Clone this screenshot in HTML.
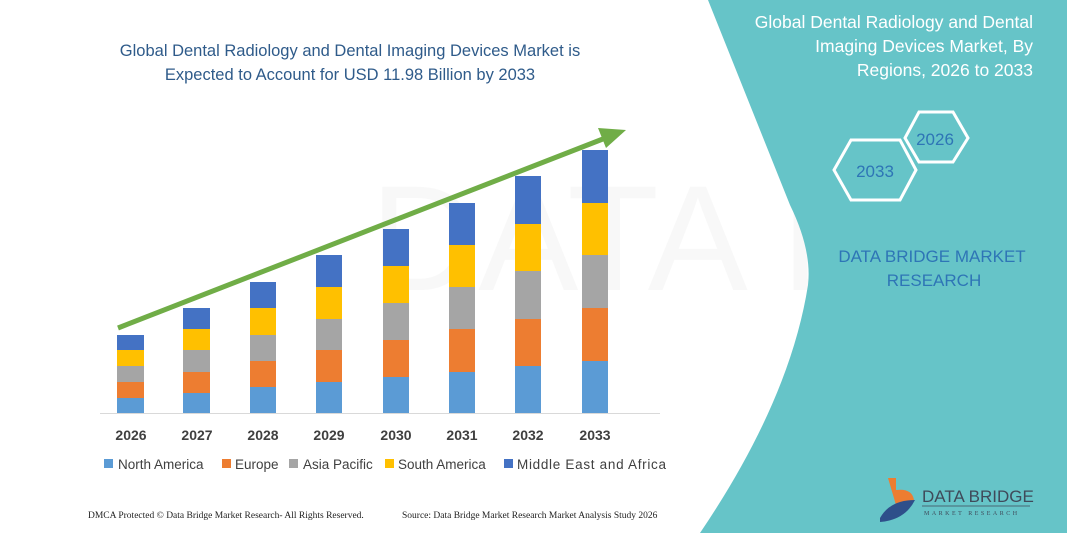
<!DOCTYPE html>
<html><head><meta charset="utf-8"><style>
body{margin:0;width:1067px;height:533px;overflow:hidden;background:#fff;font-family:"Liberation Sans",sans-serif;}
</style></head><body>
<svg width="1067" height="533" viewBox="0 0 1067 533" xmlns="http://www.w3.org/2000/svg">
<g opacity="0.035" font-family="Liberation Sans" font-size="150" fill="#555">
<text x="370" y="290">DATA BRIDGE</text>
</g>
<path d="M708,0 L1067,0 L1067,533 L700,533 Q790,400 808,285 Q812,250 790,205 Z" fill="#66c4c8"/>
<g font-family="Liberation Sans" fill="#2f5b8a" font-size="16.5" text-anchor="middle">
<text x="350" y="56">Global Dental Radiology and Dental Imaging Devices Market is</text>
<text x="350" y="80">Expected to Account for USD 11.98 Billion by 2033</text>
</g>
<line x1="100" y1="413.5" x2="660" y2="413.5" stroke="#d9d9d9" stroke-width="1"/>
<g id="bars">
<rect x="117" y="398" width="27" height="15" fill="#5b9bd5"/><rect x="117" y="382" width="27" height="16" fill="#ed7d31"/><rect x="117" y="366" width="27" height="16" fill="#a5a5a5"/><rect x="117" y="350" width="27" height="16" fill="#ffc000"/><rect x="117" y="335" width="27" height="15" fill="#4472c4"/>
<rect x="183" y="393" width="27" height="20" fill="#5b9bd5"/><rect x="183" y="372" width="27" height="21" fill="#ed7d31"/><rect x="183" y="350" width="27" height="22" fill="#a5a5a5"/><rect x="183" y="329" width="27" height="21" fill="#ffc000"/><rect x="183" y="308" width="27" height="21" fill="#4472c4"/>
<rect x="250" y="387" width="26" height="26" fill="#5b9bd5"/><rect x="250" y="361" width="26" height="26" fill="#ed7d31"/><rect x="250" y="335" width="26" height="26" fill="#a5a5a5"/><rect x="250" y="308" width="26" height="27" fill="#ffc000"/><rect x="250" y="282" width="26" height="26" fill="#4472c4"/>
<rect x="316" y="382" width="26" height="31" fill="#5b9bd5"/><rect x="316" y="350" width="26" height="32" fill="#ed7d31"/><rect x="316" y="319" width="26" height="31" fill="#a5a5a5"/><rect x="316" y="287" width="26" height="32" fill="#ffc000"/><rect x="316" y="255" width="26" height="32" fill="#4472c4"/>
<rect x="383" y="377" width="26" height="36" fill="#5b9bd5"/><rect x="383" y="340" width="26" height="37" fill="#ed7d31"/><rect x="383" y="303" width="26" height="37" fill="#a5a5a5"/><rect x="383" y="266" width="26" height="37" fill="#ffc000"/><rect x="383" y="229" width="26" height="37" fill="#4472c4"/>
<rect x="449" y="372" width="26" height="41" fill="#5b9bd5"/><rect x="449" y="329" width="26" height="43" fill="#ed7d31"/><rect x="449" y="287" width="26" height="42" fill="#a5a5a5"/><rect x="449" y="245" width="26" height="42" fill="#ffc000"/><rect x="449" y="203" width="26" height="42" fill="#4472c4"/>
<rect x="515" y="366" width="26" height="47" fill="#5b9bd5"/><rect x="515" y="319" width="26" height="47" fill="#ed7d31"/><rect x="515" y="271" width="26" height="48" fill="#a5a5a5"/><rect x="515" y="224" width="26" height="47" fill="#ffc000"/><rect x="515" y="176" width="26" height="48" fill="#4472c4"/>
<rect x="582" y="361" width="26" height="52" fill="#5b9bd5"/><rect x="582" y="308" width="26" height="53" fill="#ed7d31"/><rect x="582" y="255" width="26" height="53" fill="#a5a5a5"/><rect x="582" y="203" width="26" height="52" fill="#ffc000"/><rect x="582" y="150" width="26" height="53" fill="#4472c4"/>
</g>
<line x1="118" y1="328" x2="608" y2="137" stroke="#70ad47" stroke-width="5"/>
<polygon points="626,130 598,128 606,148" fill="#70ad47"/>
<g font-family="Liberation Sans" font-weight="bold" font-size="14" fill="#404040" text-anchor="middle">
<text x="131" y="440">2026</text><text x="197" y="440">2027</text><text x="263" y="440">2028</text><text x="329" y="440">2029</text><text x="396" y="440">2030</text><text x="462" y="440">2031</text><text x="528" y="440">2032</text><text x="595" y="440">2033</text>
</g>
<g font-family="Liberation Sans" font-size="13.5" fill="#404040">
<rect x="104" y="459" width="9" height="9" fill="#5b9bd5"/><text x="118" y="469">North America</text>
<rect x="222" y="459" width="9" height="9" fill="#ed7d31"/><text x="235" y="469">Europe</text>
<rect x="289" y="459" width="9" height="9" fill="#a5a5a5"/><text x="303" y="469">Asia Pacific</text>
<rect x="385" y="459" width="9" height="9" fill="#ffc000"/><text x="398" y="469">South America</text>
<rect x="504" y="459" width="9" height="9" fill="#4472c4"/><text x="517" y="469" textLength="149">Middle East and Africa</text>
</g>
<g font-family="Liberation Serif" font-size="9.5" fill="#222">
<text x="88" y="518">DMCA Protected © Data Bridge Market Research-  All Rights Reserved.</text>
<text x="402" y="518">Source: Data Bridge Market Research  Market Analysis Study 2026</text>
</g>
<g font-family="Liberation Sans" font-size="17.5" fill="#fff" text-anchor="end">
<text x="1033" y="28">Global Dental Radiology and Dental</text>
<text x="1033" y="52">Imaging Devices Market, By</text>
<text x="1033" y="76">Regions, 2026 to 2033</text>
</g>
<polygon points="905,138 919,112 953,112 968,138 953,162 919,162" fill="none" stroke="#fff" stroke-width="3"/>
<polygon points="834,170 851,140 900,140 916,170 900,200 851,200" fill="none" stroke="#fff" stroke-width="3"/>
<g font-family="Liberation Sans" font-size="17" fill="#2e75b6" text-anchor="middle">
<text x="935" y="145">2026</text>
<text x="875" y="177">2033</text>
<text x="932" y="262">DATA BRIDGE MARKET</text>
<text x="934" y="286">RESEARCH</text>
</g>
<path d="M888,478 L896,478 L896,490 Q912,488 914,500 L896,505 Z" fill="#ed7d31"/>
<path d="M880,518 Q890,500 915,500 Q905,520 880,522 Z" fill="#2e4f8a"/>
<text x="922" y="502" font-family="Liberation Sans" font-size="17" fill="#3f4a5a">DATA BRIDGE</text>
<line x1="922" y1="506" x2="1030" y2="506" stroke="#3f4a5a" stroke-width="0.8"/>
<text x="924" y="515" font-family="Liberation Serif" font-size="6" letter-spacing="2.5" fill="#3f4a5a">MARKET RESEARCH</text>
</svg>
</body></html>
